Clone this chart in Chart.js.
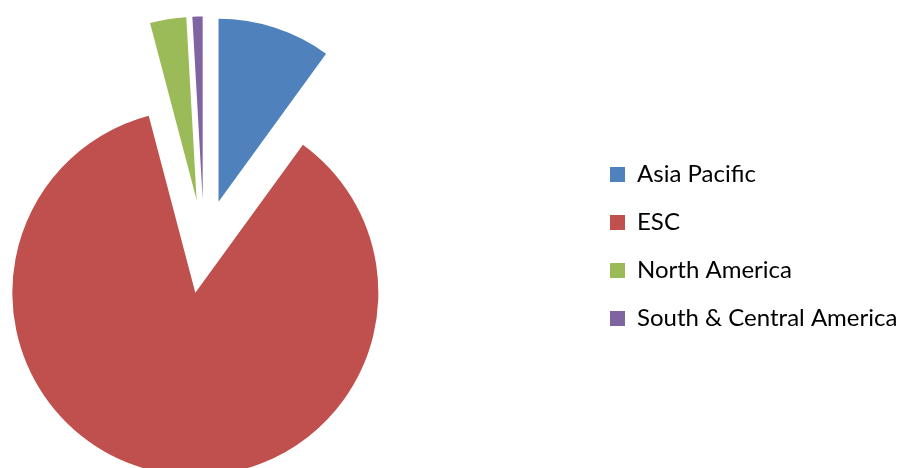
<!DOCTYPE html>
<html>
<head>
<meta charset="utf-8">
<script src="https://cdn.jsdelivr.net/npm/chart.js"></script>
<style>
  html, body { margin: 0; padding: 0; background: #fff; }
  #wrap { position: relative; width: 905px; height: 468px; overflow: hidden; }
  #chart { position: absolute; left: -178px; top: 0; }
</style>
</head>
<body>
<div id="wrap"><canvas id="chart" width="1103" height="468"></canvas></div>
<script>
const regions = ['Asia Pacific', 'ESC', 'North America', 'South & Central America'];
const shares = [10.0, 85.9, 3.2, 0.9];
const colors = ['#4F81BD', '#C0504D', '#9BBB59', '#8064A2'];

const explodeDist = 47;
const fontSize = 24;
const labelPad = 24;
const boxSize = 15;

// legend has to start at x=764 in canvas space, so size the right padding from the longest label
const canvas = document.getElementById('chart');
const mctx = canvas.getContext('2d');
mctx.font = fontSize + 'px Lato';
const longest = Math.max(...regions.map(r => mctx.measureText(r).width));
const legendW = labelPad + boxSize + fontSize / 2 + longest + 10;
const rightPad = Math.max(canvas.width - 764 - legendW, 0);

// push every slice out along its own mid angle (like an exploded Excel pie)
const explode = {
    id: 'explode',
    afterDatasetsUpdate(chart) {
        chart.getDatasetMeta(0).data.forEach(arc => {
            const mid = (arc.startAngle + arc.endAngle) / 2;
            arc.x += Math.cos(mid) * explodeDist;
            arc.y += Math.sin(mid) * explodeDist;
        });
    }
};

new Chart(canvas, {
    type: 'pie',
    data: {
        labels: regions,
        datasets: [{
            data: shares,
            backgroundColor: colors,
            borderWidth: 0,
            hoverOffset: 0,
            clip: false
        }]
    },
    options: {
        responsive: false,
        animation: false,
        events: [],
        radius: 183,
        layout: { padding: { top: 25, right: rightPad } },
        plugins: {
            tooltip: { enabled: false },
            legend: {
                position: 'right',
                labels: {
                    boxWidth: boxSize,
                    boxHeight: boxSize,
                    padding: labelPad,
                    color: '#000',
                    font: { family: 'Lato', size: fontSize }
                }
            }
        }
    },
    plugins: [explode]
});
</script>
</body>
</html>
